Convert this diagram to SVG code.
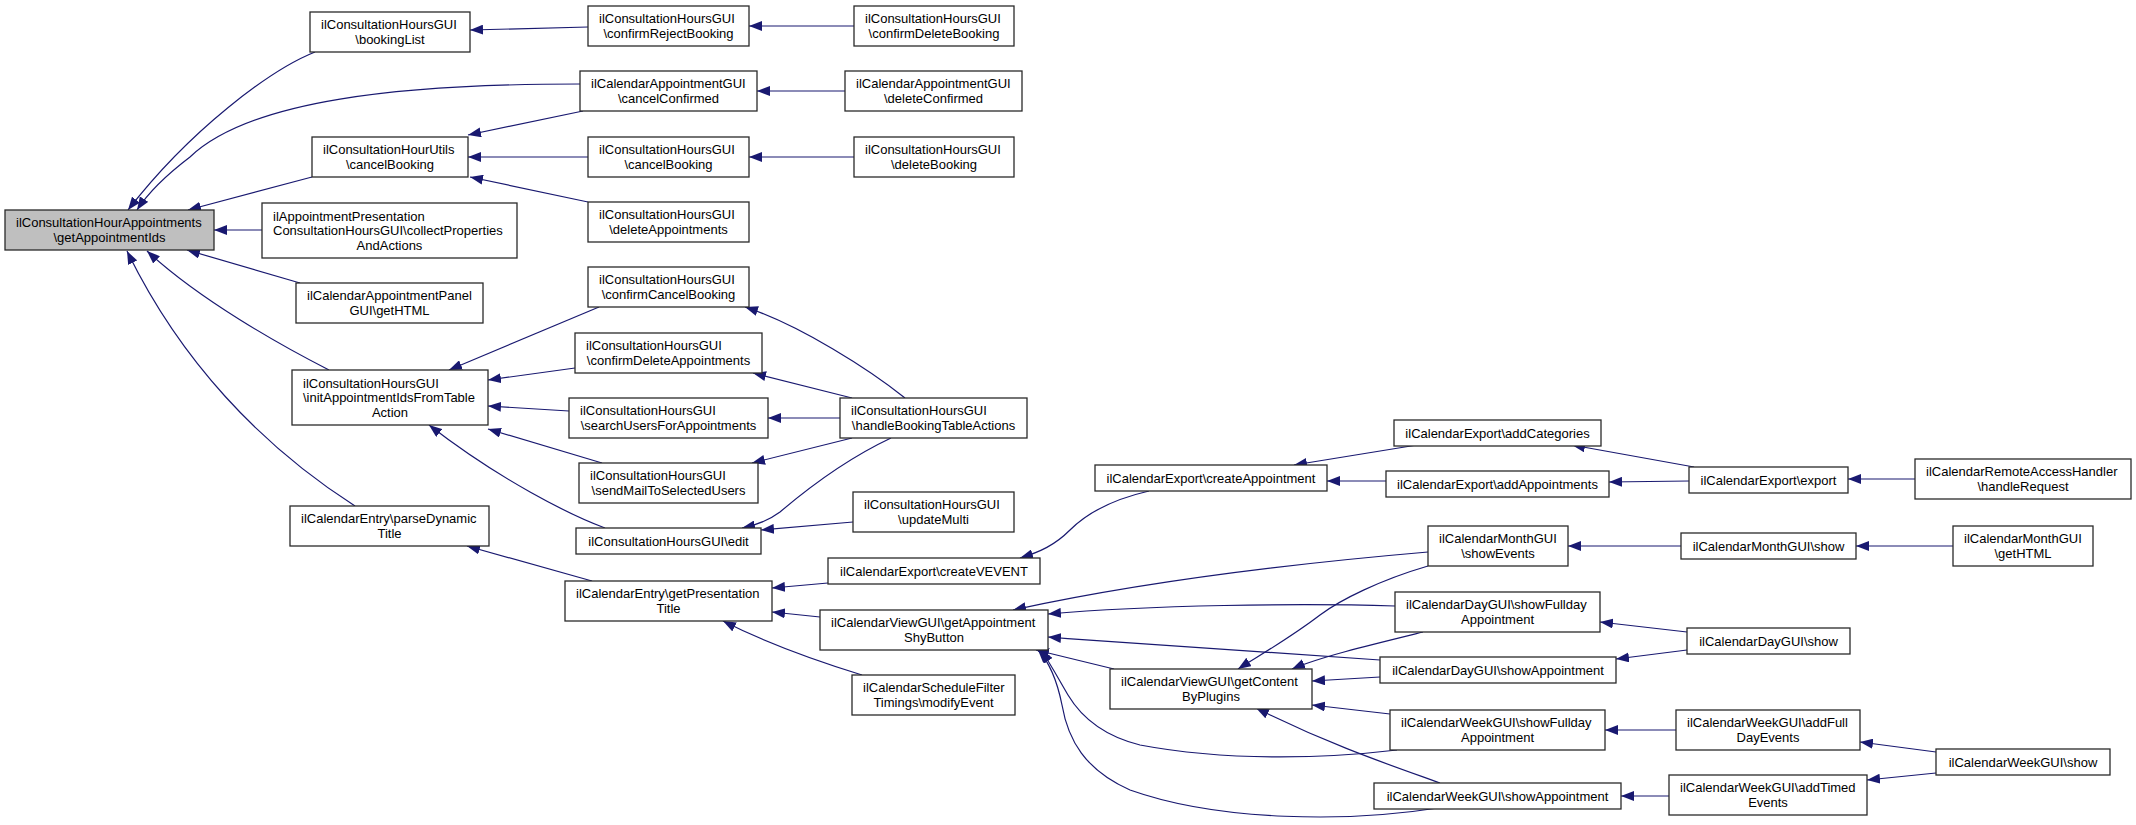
<svg xmlns="http://www.w3.org/2000/svg" width="2136" height="825" viewBox="0 0 2136 825">
<style>
  .node rect { fill: #ffffff; stroke: #2a2a2a; stroke-width: 1.3; }
  .node.root rect { fill: #bfbfbf; }
  .node text { font-family: "Liberation Sans", Arial, Helvetica, sans-serif; font-size: 13px; fill: #000000; }
  .node text.c { text-anchor: middle; }
  .edges path { fill: none; stroke: #191970; stroke-width: 1.2; marker-end: url(#arr); }
</style>
<defs>
  <marker id="arr" markerUnits="userSpaceOnUse" viewBox="0 0 13 10" markerWidth="13" markerHeight="10" refX="13" refY="5" orient="auto">
    <path d="M0,0 L13,5 L0,10 z" fill="#191970"/>
  </marker>
</defs>
<rect x="0" y="0" width="2136" height="825" fill="#ffffff"/>

<g id="connectors" class="edges">
  <path d="M315,52 C 270,70 190,130 128,210"/>
  <path d="M580,84 C 400,84 250,100 190,157 C 165,176 148,193 137,210"/>
  <path d="M312,177 L188,210"/>
  <path d="M262,230 L214,230"/>
  <path d="M300,283 L187,250"/>
  <path d="M329,370 C 280,345 200,300 147,251"/>
  <path d="M355,506 C 260,445 180,360 127,251"/>
  <path d="M588,27 L470,30"/>
  <path d="M854,26 L749,26"/>
  <path d="M845,91 L757,91"/>
  <path d="M583,111 L468,135"/>
  <path d="M588,157 L468,157"/>
  <path d="M588,202 L470,177"/>
  <path d="M854,157 L749,157"/>
  <path d="M599,307 L449,370"/>
  <path d="M575,368 L488,380"/>
  <path d="M569,411 L488,406"/>
  <path d="M602,463 L488,429"/>
  <path d="M605,528 C 570,515 500,480 429,425"/>
  <path d="M905,398 C 870,370 800,325 745,307"/>
  <path d="M852,398 L753,373"/>
  <path d="M840,418 L768,418"/>
  <path d="M852,438 L752,463"/>
  <path d="M891,438 C 840,462 800,495 780,512 C 768,521 757,525 742,528"/>
  <path d="M853,522 L761,530"/>
  <path d="M592,581 L467,546"/>
  <path d="M828,583 L772,588"/>
  <path d="M820,617 L772,612"/>
  <path d="M862,675 C 820,662 770,645 723,621"/>
  <path d="M1149,491 C 1110,500 1085,515 1070,530 C 1055,545 1040,552 1020,558"/>
  <path d="M1417,445 L1294,465"/>
  <path d="M1386,481 L1327,481"/>
  <path d="M1694,467 L1572,445"/>
  <path d="M1689,481 L1609,482"/>
  <path d="M1915,479 L1848,479"/>
  <path d="M1428,552 C 1300,563 1150,580 1013,610"/>
  <path d="M1395,606 C 1300,603 1150,605 1048,614"/>
  <path d="M1380,660 C 1250,652 1150,645 1048,637"/>
  <path d="M1114,669 L1036,650"/>
  <path d="M1397,750 C 1330,758 1230,762 1140,745 C 1100,735 1080,715 1068,695 C 1058,678 1050,663 1041,650"/>
  <path d="M1438,808 C 1350,822 1220,822 1130,790 C 1085,770 1068,740 1062,705 C 1058,685 1052,665 1038,650"/>
  <path d="M1428,566 C 1380,580 1340,600 1320,615 C 1290,638 1260,655 1238,669"/>
  <path d="M1423,632 C 1370,645 1320,657 1292,669"/>
  <path d="M1380,677 L1312,681"/>
  <path d="M1390,714 L1312,705"/>
  <path d="M1440,783 C 1390,765 1330,745 1256,708"/>
  <path d="M1681,546 L1568,546"/>
  <path d="M1953,546 L1856,546"/>
  <path d="M1687,632 L1600,622"/>
  <path d="M1687,650 L1616,659"/>
  <path d="M1676,730 L1605,730"/>
  <path d="M1669,796 L1621,796"/>
  <path d="M1936,752 L1860,742"/>
  <path d="M1936,773 L1867,780"/>
</g>

<g id="n_main" class="node root"><rect x="5" y="210" width="209" height="40"/><text x="16" y="227">ilConsultationHourAppointments</text><text class="c" x="109.5" y="241.5">\getAppointmentIds</text></g>

<g id="n_bookingList" class="node"><rect x="310" y="12" width="160" height="40"/><text x="321" y="29">ilConsultationHoursGUI</text><text class="c" x="390" y="43.5">\bookingList</text></g>
<g id="n_hourUtilsCancel" class="node"><rect x="312" y="137" width="156" height="40"/><text x="323" y="154">ilConsultationHourUtils</text><text class="c" x="390" y="168.5">\cancelBooking</text></g>
<g id="n_apptPresentation" class="node"><rect x="262" y="203" width="255" height="55"/><text x="273" y="220.5">ilAppointmentPresentation</text><text x="273" y="235">ConsultationHoursGUI\collectProperties</text><text class="c" x="389.5" y="249.5">AndActions</text></g>
<g id="n_panelGetHTML" class="node"><rect x="296" y="283" width="187" height="40"/><text x="307" y="300">ilCalendarAppointmentPanel</text><text class="c" x="389.5" y="314.5">GUI\getHTML</text></g>
<g id="n_initIds" class="node"><rect x="292" y="370" width="196" height="55"/><text x="303" y="387.5">ilConsultationHoursGUI</text><text x="303" y="402">\initAppointmentIdsFromTable</text><text class="c" x="390" y="416.5">Action</text></g>
<g id="n_parseDynamic" class="node"><rect x="290" y="506" width="199" height="40"/><text x="301" y="523">ilCalendarEntry\parseDynamic</text><text class="c" x="389.5" y="537.5">Title</text></g>

<g id="n_confirmReject" class="node"><rect x="588" y="6" width="161" height="40"/><text x="599" y="23">ilConsultationHoursGUI</text><text class="c" x="668.5" y="37.5">\confirmRejectBooking</text></g>
<g id="n_cancelConfirmed" class="node"><rect x="580" y="71" width="177" height="40"/><text x="591" y="88">ilCalendarAppointmentGUI</text><text class="c" x="668.5" y="102.5">\cancelConfirmed</text></g>
<g id="n_guiCancelBooking" class="node"><rect x="588" y="137" width="161" height="40"/><text x="599" y="154">ilConsultationHoursGUI</text><text class="c" x="668.5" y="168.5">\cancelBooking</text></g>
<g id="n_deleteAppointments" class="node"><rect x="588" y="202" width="161" height="40"/><text x="599" y="219">ilConsultationHoursGUI</text><text class="c" x="668.5" y="233.5">\deleteAppointments</text></g>
<g id="n_confirmCancel" class="node"><rect x="588" y="267" width="161" height="40"/><text x="599" y="284">ilConsultationHoursGUI</text><text class="c" x="668.5" y="298.5">\confirmCancelBooking</text></g>
<g id="n_confirmDeleteAppts" class="node"><rect x="575" y="333" width="187" height="40"/><text x="586" y="350">ilConsultationHoursGUI</text><text class="c" x="668.5" y="364.5">\confirmDeleteAppointments</text></g>
<g id="n_searchUsers" class="node"><rect x="569" y="398" width="199" height="40"/><text x="580" y="415">ilConsultationHoursGUI</text><text class="c" x="668.5" y="429.5">\searchUsersForAppointments</text></g>
<g id="n_sendMail" class="node"><rect x="579" y="463" width="179" height="40"/><text x="590" y="480">ilConsultationHoursGUI</text><text class="c" x="668.5" y="494.5">\sendMailToSelectedUsers</text></g>
<g id="n_edit" class="node"><rect x="576" y="528" width="185" height="26"/><text class="c" x="668.5" y="545.5">ilConsultationHoursGUI\edit</text></g>
<g id="n_getPresTitle" class="node"><rect x="565" y="581" width="207" height="40"/><text x="576" y="598">ilCalendarEntry\getPresentation</text><text class="c" x="668.5" y="612.5">Title</text></g>

<g id="n_confirmDeleteBooking" class="node"><rect x="854" y="6" width="160" height="40"/><text x="865" y="23">ilConsultationHoursGUI</text><text class="c" x="934" y="37.5">\confirmDeleteBooking</text></g>
<g id="n_deleteConfirmed" class="node"><rect x="845" y="71" width="177" height="40"/><text x="856" y="88">ilCalendarAppointmentGUI</text><text class="c" x="933.5" y="102.5">\deleteConfirmed</text></g>
<g id="n_deleteBooking" class="node"><rect x="854" y="137" width="160" height="40"/><text x="865" y="154">ilConsultationHoursGUI</text><text class="c" x="934" y="168.5">\deleteBooking</text></g>
<g id="n_handleBooking" class="node"><rect x="840" y="398" width="187" height="40"/><text x="851" y="415">ilConsultationHoursGUI</text><text class="c" x="933.5" y="429.5">\handleBookingTableActions</text></g>
<g id="n_updateMulti" class="node"><rect x="853" y="492" width="161" height="40"/><text x="864" y="509">ilConsultationHoursGUI</text><text class="c" x="933.5" y="523.5">\updateMulti</text></g>
<g id="n_createVEVENT" class="node"><rect x="828" y="558" width="212" height="26"/><text class="c" x="934" y="575.5">ilCalendarExport\createVEVENT</text></g>
<g id="n_shyButton" class="node"><rect x="820" y="610" width="228" height="40"/><text x="831" y="627">ilCalendarViewGUI\getAppointment</text><text class="c" x="934" y="641.5">ShyButton</text></g>
<g id="n_modifyEvent" class="node"><rect x="852" y="675" width="163" height="40"/><text x="863" y="692">ilCalendarScheduleFilter</text><text class="c" x="933.5" y="706.5">Timings\modifyEvent</text></g>

<g id="n_createAppointment" class="node"><rect x="1095" y="465" width="232" height="26"/><text class="c" x="1211" y="482.5">ilCalendarExport\createAppointment</text></g>
<g id="n_getContent" class="node"><rect x="1110" y="669" width="202" height="40"/><text x="1121" y="686">ilCalendarViewGUI\getContent</text><text class="c" x="1211" y="700.5">ByPlugins</text></g>

<g id="n_addCategories" class="node"><rect x="1394" y="420" width="207" height="26"/><text class="c" x="1497.5" y="437.5">ilCalendarExport\addCategories</text></g>
<g id="n_addAppointments" class="node"><rect x="1386" y="471" width="223" height="26"/><text class="c" x="1497.5" y="488.5">ilCalendarExport\addAppointments</text></g>
<g id="n_monthShowEvents" class="node"><rect x="1428" y="526" width="140" height="40"/><text x="1439" y="543">ilCalendarMonthGUI</text><text class="c" x="1498" y="557.5">\showEvents</text></g>
<g id="n_dayShowFullday" class="node"><rect x="1395" y="592" width="205" height="40"/><text x="1406" y="609">ilCalendarDayGUI\showFullday</text><text class="c" x="1497.5" y="623.5">Appointment</text></g>
<g id="n_dayShowAppointment" class="node"><rect x="1380" y="657" width="236" height="26"/><text class="c" x="1498" y="674.5">ilCalendarDayGUI\showAppointment</text></g>
<g id="n_weekShowFullday" class="node"><rect x="1390" y="710" width="215" height="40"/><text x="1401" y="727">ilCalendarWeekGUI\showFullday</text><text class="c" x="1497.5" y="741.5">Appointment</text></g>
<g id="n_weekShowAppointment" class="node"><rect x="1374" y="783" width="247" height="26"/><text class="c" x="1497.5" y="800.5">ilCalendarWeekGUI\showAppointment</text></g>

<g id="n_export" class="node"><rect x="1689" y="467" width="159" height="26"/><text class="c" x="1768.5" y="484.5">ilCalendarExport\export</text></g>
<g id="n_monthShow" class="node"><rect x="1681" y="533" width="175" height="26"/><text class="c" x="1768.5" y="550.5">ilCalendarMonthGUI\show</text></g>
<g id="n_dayShow" class="node"><rect x="1687" y="628" width="163" height="26"/><text class="c" x="1768.5" y="645.5">ilCalendarDayGUI\show</text></g>
<g id="n_addFullDay" class="node"><rect x="1676" y="710" width="184" height="40"/><text x="1687" y="727">ilCalendarWeekGUI\addFull</text><text class="c" x="1768" y="741.5">DayEvents</text></g>
<g id="n_addTimed" class="node"><rect x="1669" y="775" width="198" height="40"/><text x="1680" y="792">ilCalendarWeekGUI\addTimed</text><text class="c" x="1768" y="806.5">Events</text></g>

<g id="n_handleRequest" class="node"><rect x="1915" y="459" width="216" height="40"/><text x="1926" y="476">ilCalendarRemoteAccessHandler</text><text class="c" x="2023" y="490.5">\handleRequest</text></g>
<g id="n_monthGetHTML" class="node"><rect x="1953" y="526" width="140" height="40"/><text x="1964" y="543">ilCalendarMonthGUI</text><text class="c" x="2023" y="557.5">\getHTML</text></g>
<g id="n_weekShow" class="node"><rect x="1936" y="749" width="174" height="26"/><text class="c" x="2023" y="766.5">ilCalendarWeekGUI\show</text></g>
</svg>
